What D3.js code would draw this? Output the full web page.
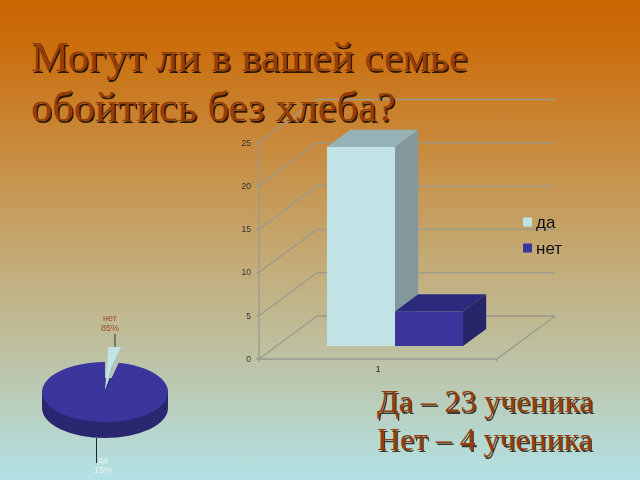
<!DOCTYPE html>
<html><head><meta charset="utf-8">
<script src="https://cdn.jsdelivr.net/npm/d3@7/dist/d3.min.js"></script>
<style>html,body{margin:0;padding:0;background:#bbb}svg{display:block}</style>
</head><body><svg id="c" width="640" height="480"></svg>
<script>
const titleLines = ["Могут ли в вашей семье", "обойтись без хлеба?"];
const summaryLines = ["Да – 23 ученика", "Нет – 4 ученика"];
const seriesNames = ["да", "нет"];
const seriesValues = [23, 4];
const categories = ["1"];
const yTicks = [0, 5, 10, 15, 20, 25];
const pieVisualShares = [3.5, 96.5];
const pieLabels = [["нет", "85%"], ["да", "15%"]];

const svg = d3.select("#c");
const defs = svg.append("defs");
const g = defs.append("linearGradient").attr("id","bg").attr("x1",0).attr("x2",0).attr("y1",0).attr("y2",1);
[[0,"#cb6602"],[0.08,"#cb6c0a"],[0.3,"#c88a3c"],[0.55,"#c3ac78"],[0.78,"#bcc6ac"],[1,"#b3e2e6"]].forEach(s=>g.append("stop").attr("offset",s[0]).attr("stop-color",s[1]));
const blur = defs.append("filter").attr("id","soft").attr("filterUnits","userSpaceOnUse").attr("x",0).attr("y",0).attr("width",640).attr("height",480).attr("color-interpolation-filters","sRGB");
blur.append("feGaussianBlur").attr("stdDeviation",0.4);
svg.append("rect").attr("width",640).attr("height",480).attr("fill","url(#bg)");

// 3D column chart
const y = d3.scaleLinear().domain([0,25]).range([359,142.5]);
const x = d3.scaleLinear().domain([0,1]).range([259,497]);
const DX = 58, DY = -43;
const pt = (fx,v,d)=>[x(fx)+DX*d, y(v)+DY*d];
const poly = (pts,fill,par)=>par.append("polygon").attr("points",pts.map(p=>p.join(",")).join(" ")).attr("fill",fill);
const chart = svg.append("g").attr("filter","url(#soft)");
const grid = "#9a9a8e";
const ln = (a,b)=>chart.append("line").attr("x1",a[0]).attr("y1",a[1]).attr("x2",b[0]).attr("y2",b[1]).attr("stroke",grid).attr("stroke-width",1.3);
yTicks.forEach(t=>{ ln(pt(0,t,0),pt(0,t,1)); ln(pt(0,t,1),pt(1,t,1)); });
ln(pt(0,0,0),pt(0,25,0));
ln(pt(0,0,0),pt(1,0,0)); ln(pt(1,0,0),pt(1,0,1));
ln(pt(0,0,0),[x(0),y(0)+3]); ln(pt(1,0,0),[x(1),y(0)+3]);
yTicks.forEach(t=>{ ln(pt(0,t,0),[x(0)-3,y(t)]);
  chart.append("text").attr("x",251).attr("y",y(t)+3).attr("text-anchor","end").attr("font-family","Liberation Sans").attr("font-size",8.5).attr("fill","#333").text(t);
});
chart.append("text").attr("x",378).attr("y",372).attr("text-anchor","middle").attr("font-family","Liberation Sans").attr("font-size",8.5).attr("fill","#222").text(categories[0]);

const fx = d3.scaleBand().domain(seriesNames).range([0.2126,0.784]).padding(0);
const barColors = {"да":["#c2e3e6","#96b2b6","#83989c"],"нет":["#3a369c","#2c2a7c","#272568"]};
const d0=0.3,d1=0.7;
seriesNames.forEach((n,i)=>{
  const a=fx(n), b=a+fx.bandwidth(), v=seriesValues[i], c=barColors[n];
  poly([pt(a,v,d0),pt(b,v,d0),pt(b,v,d1),pt(a,v,d1)],c[1],chart);
  poly([pt(b,0,d0),pt(b,v,d0),pt(b,v,d1),pt(b,0,d1)],c[2],chart);
  poly([pt(a,0,d0),pt(b,0,d0),pt(b,v,d0),pt(a,v,d0)],c[0],chart);
});
// legend
const leg = svg.append("g").attr("filter","url(#soft)");
const ly = d3.scalePoint().domain(seriesNames).range([222,248]);
seriesNames.forEach(n=>{
  leg.append("rect").attr("x",523).attr("y",ly(n)-4.5).attr("width",9).attr("height",9).attr("fill",barColors[n][0]);
  leg.append("text").attr("x",536).attr("y",ly(n)+5.5).attr("font-family","Liberation Sans").attr("font-size",17).attr("fill","#111").text(n);
});

// 3D pie
const cx=105, cy=392, rx=63, ry=30, depth=16;
const pieG = svg.append("g").attr("filter","url(#soft)");
const arcs = d3.pie().sort(null).startAngle(0)(pieVisualShares);
const arc = d3.arc().innerRadius(0).outerRadius(1);
const sq = (sel,tx,ty)=>sel.attr("transform",`translate(${tx},${ty}) scale(${rx},${ry})`);
sq(pieG.append("path").attr("d",d3.arc().innerRadius(0).outerRadius(1).startAngle(0).endAngle(2*Math.PI)()).attr("fill","#29276f"),cx,cy+depth);
pieG.append("rect").attr("x",cx-rx).attr("y",cy).attr("width",2*rx).attr("height",depth).attr("fill","#29276f");
sq(pieG.append("path").attr("d",arc(arcs[1])).attr("fill","#3a369c"),cx,cy);
// exploded slice
const apex=[cx,cy-2], tipL=[108.5,347], tipR=[121,347], inner=[111,368];
poly([apex,tipL,tipR],"#c5e4e7",pieG);
poly([apex,tipR,inner],"#9fbfc4",pieG);

const ll = svg.append("g").attr("filter","url(#soft)");
ll.append("line").attr("x1",115).attr("x2",115).attr("y1",334).attr("y2",347).attr("stroke","#333");
ll.append("line").attr("x1",96.5).attr("x2",96.5).attr("y1",438).attr("y2",463).attr("stroke","#1c2a30");
const lab=[[110,321,"#9c4a1c",pieLabels[0]],[103,463,"#e8f4f0",pieLabels[1]]];
lab.forEach(l=>l[3].forEach((t,k)=>ll.append("text").attr("x",l[0]).attr("y",l[1]+k*10).attr("text-anchor","middle").attr("font-family","Liberation Sans").attr("font-size",9).attr("fill",l[2]).text(t)));

// titles
const txt=(t,px,py,fs,sc)=>{
  svg.append("text").attr("x",px+1.5).attr("y",py+1.5).attr("font-family","Liberation Serif").attr("font-size",fs).attr("fill",sc).attr("filter","url(#soft)").text(t);
  svg.append("text").attr("x",px).attr("y",py).attr("font-family","Liberation Serif").attr("font-size",fs).attr("fill","#963e0a").text(t);
};
const ty=d3.scalePoint().domain(titleLines).range([71,121]);
titleLines.forEach(t=>txt(t,31,ty(t),42.4,"#2a1800"));
const sy=d3.scalePoint().domain(summaryLines).range([412,450]);
summaryLines.forEach(t=>txt(t,377,sy(t),31.8,"#3a3a30"));
</script></body></html>
